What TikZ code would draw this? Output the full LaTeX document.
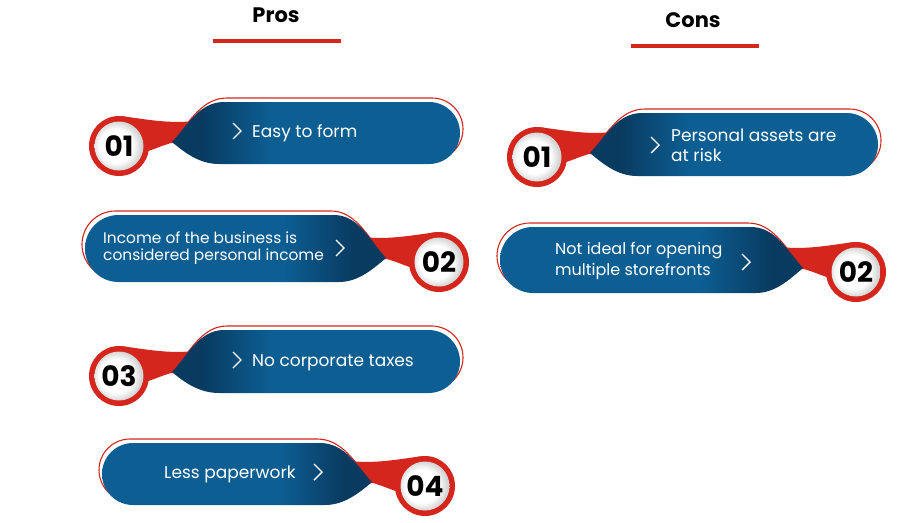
\documentclass[tikz,border=0pt]{standalone}
\usepackage{fontspec}
\setmainfont{Poppins}
\definecolor{bmain}{RGB}{12,94,147}
\definecolor{bdark}{RGB}{9,58,95}
\definecolor{rred}{RGB}{213,38,30}
\definecolor{ringgray}{RGB}{205,205,205}
\pgfdeclarehorizontalshading{tabshadeL}{100bp}{color(0bp)=(bdark); color(30bp)=(bdark); color(42bp)=(bmain); color(100bp)=(bmain)}
\pgfdeclarehorizontalshading{tabshadeR}{100bp}{color(0bp)=(bmain); color(58bp)=(bmain); color(70bp)=(bdark); color(100bp)=(bdark)}
\pgfdeclareradialshading{discshade}{\pgfpoint{-5bp}{0bp}}{color(0bp)=(white); color(17bp)=(white); color(27bp)=(ringgray); color(50bp)=(ringgray)}
\newcommand\tabpath[4]{(53,-4) .. controls (68,-20) and (80,#1) .. (105,#1) -- (#3,#1) arc[start angle=-90,end angle=90,radius=#4] -- (100,#2) .. controls (80,#2) and (65,6) .. (53,-4) -- cycle}
% #1 cx, #2 cy, #3 xscale, #4 length, #5 top, #6 bottom, #7 shading
\newcommand\tabshape[7]{%
\begin{scope}[shift={(#1,#2)},xscale=#3]
\pgfmathsetmacro\rr{(#6-(#5))/2}
\pgfmathsetmacro\xa{#4-\rr}
\begin{scope}[shift={(3,-4)}]
\draw[rred,line width=1.1] \tabpath{#5}{#6}{\xa}{\rr};
\end{scope}
\fill[rred] (4,-29.7) .. controls (25,-27) and (50,-22) .. (75,-25) -- (62,-2) -- (52,-3) .. controls (45,-1) and (38,2) .. (29.5,5) -- cycle;
\shade[shading=#7] \tabpath{#5}{#6}{\xa}{\rr};
\fill[rred] (0,0) circle[radius=30];
\shade[shading=discshade] (0,0) circle[radius=24.5];
\end{scope}}
\tikzset{
  txt/.style={text=white,font=\fontsize{17}{20}\selectfont,inner sep=0pt},
  num/.style={text=black,font=\bfseries\fontsize{28}{32}\selectfont,inner sep=0pt},
  head/.style={text=black,font=\bfseries\fontsize{21}{25}\selectfont,inner sep=0pt},
  uline/.style={rred,line width=4},
  chev/.style={white,line width=1.4}
}
\newcommand\chevron[2]{\draw[chev] (#1-4,#2-8) -- (#1+4,#2) -- (#1-4,#2+8);}
\begin{document}
\begin{tikzpicture}[x=1pt,y=-1pt]
\fill[white] (0,0) rectangle (918,522);
\useasboundingbox (0,0) rectangle (918,522);
% headers
\node[head] (pros) at (276,15) {Pros};
\coordinate (pl) at (213,40.5); \coordinate (pr) at (341,40.5);
\draw[uline] (pl) -- (pr);
\node[head] (cons) at (693,20) {Cons};
\coordinate (cl) at (631,45.5); \coordinate (cr) at (759,45.5);
\draw[uline] (cl) -- (cr);
% shapes
\tabshape{119}{146}{1}{341}{-44}{18}{tabshadeL}
\tabshape{439}{262}{-1}{354}{-47}{20}{tabshadeR}
\tabshape{119}{376}{1}{341}{-46}{17}{tabshadeL}
\tabshape{425}{486}{-1}{323}{-43}{19}{tabshadeR}
\tabshape{537}{157}{1}{341}{-44}{19}{tabshadeL}
\tabshape{856}{272}{-1}{356}{-45}{21}{tabshadeR}
% numbers
\node[num] (n1) at (119,146) {01};
\node[num] (n2) at (439,262) {02};
\node[num] (n3) at (119,376) {03};
\node[num] (n4) at (425,486) {04};
\node[num] (c1) at (537,157) {01};
\node[num] (c2) at (856,272) {02};
% texts
\chevron{237}{131}
\node[txt,anchor=base west] (t1) at (252,137) {Easy to form};
\node[txt,anchor=west,align=left,font=\fontsize{15.4}{17}\selectfont] (t2) at (103,248) {Income of the business is\\considered personal income};
\chevron{340}{248}
\chevron{237}{360}
\node[txt,anchor=base west] (t3) at (252,366) {No corporate taxes};
\node[txt,anchor=base west] (t4) at (164,478) {Less paperwork};
\chevron{318}{472}
\chevron{655}{145}
\node[txt,anchor=west,align=left,font=\fontsize{17}{20}\selectfont] (u1) at (671,145) {Personal assets are\\at risk};
\node[txt,anchor=west,align=left,font=\fontsize{16}{21}\selectfont] (u2) at (555,261) {Not ideal for opening\\multiple storefronts};
\chevron{746}{262}
\end{tikzpicture}
\end{document}
